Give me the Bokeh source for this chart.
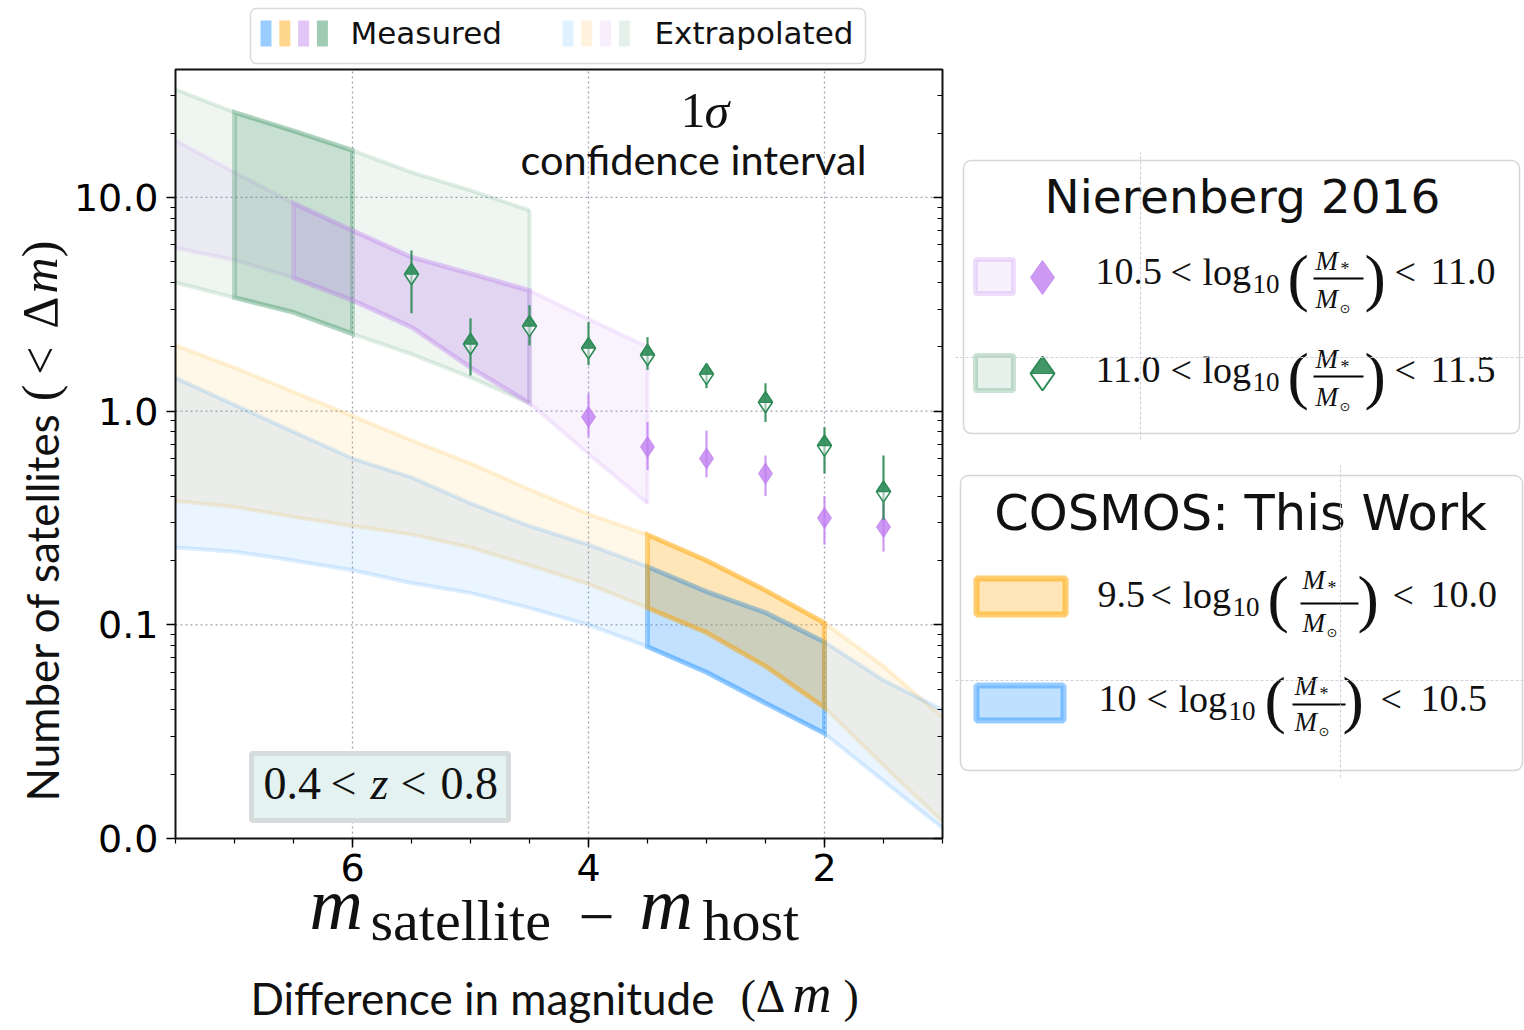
from math import pi, log10
import numpy as np
from bokeh.plotting import figure
from bokeh.models import (Range1d, FixedTicker, LogAxis, LinearAxis, Label, BoxAnnotation,
                          PolyAnnotation, PrintfTickFormatter, CustomJSTickFormatter)
from bokeh.embed import file_html
from bokeh.resources import INLINE

# ---------------- data ----------------
DM = [7.5, 7.0, 6.5, 6.0, 5.5, 5.0, 4.5, 4.0, 3.5, 3.0, 2.5, 2.0, 1.5, 1.0]
ORANGE_HI = [2.03, 1.60, 1.23, 0.95, 0.73, 0.57, 0.43, 0.33, 0.264, 0.20, 0.145, 0.102, 0.064, 0.037]
ORANGE_LO = [0.38, 0.356, 0.32, 0.29, 0.265, 0.23, 0.19, 0.155, 0.12, 0.092, 0.064, 0.041, 0.022, 0.012]
BLUE_HI = [1.43, 1.07, 0.80, 0.60, 0.49, 0.37, 0.29, 0.237, 0.187, 0.143, 0.114, 0.083, 0.055, 0.040]
BLUE_LO = [0.23, 0.22, 0.20, 0.18, 0.157, 0.141, 0.12, 0.10, 0.079, 0.060, 0.043, 0.031, 0.0186, 0.0112]
DM_PURPLE = [7.5, 7.0, 6.5, 6.0, 5.5, 5.0, 4.5, 4.0, 3.5]
PURPLE_HI = [18.5, 13.1, 9.4, 7.0, 5.25, 4.4, 3.67, 2.7, 2.0]
PURPLE_LO = [5.8, 5.1, 4.2, 3.3, 2.47, 1.6, 1.09, 0.63, 0.37]
DM_GREEN = [7.5, 7.0, 6.5, 6.0, 5.5, 5.0, 4.5]
GREEN_HI = [32.0, 25.0, 20.5, 16.6, 13.1, 10.8, 8.7]
GREEN_LO = [4.0, 3.4, 2.9, 2.3, 1.85, 1.44, 1.09]
# measured range (from, to) in delta-m for each band
ORANGE_MEAS = [3.5, 2.0]
BLUE_MEAS = [3.5, 2.0]
PURPLE_MEAS = [6.5, 4.5]
GREEN_MEAS = [7.0, 6.0]

# Nierenberg 2016 points
N_PURPLE_DM = [4.0, 3.5, 3.0, 2.5, 2.0, 1.5]
N_PURPLE_N = [0.94, 0.68, 0.60, 0.51, 0.316, 0.287]
N_PURPLE_LO = [0.76, 0.53, 0.49, 0.40, 0.237, 0.22]
N_PURPLE_HI = [1.21, 0.89, 0.81, 0.62, 0.40, 0.37]
N_GREEN_DM = [5.5, 5.0, 4.5, 4.0, 3.5, 3.0, 2.5, 2.0, 1.5]
N_GREEN_N = [4.37, 2.06, 2.50, 1.97, 1.83, 1.49, 1.10, 0.69, 0.42]
N_GREEN_LO = [2.87, 1.47, 2.03, 1.64, 1.56, 1.28, 0.89, 0.51, 0.31]
N_GREEN_HI = [5.65, 2.72, 3.13, 2.61, 2.22, 1.67, 1.35, 0.84, 0.62]

X_TICKS = [6, 4, 2]
Y_TICKS = [0.01, 0.1, 1, 10]

# ---------------- styling / layout ----------------
ORANGE = "#ffa500"
BLUE = "#1e90ff"
PURPLE = "#c080f0"
GREEN = "#2e8b57"
EXT_FILL, EXT_LINE = 0.095, 0.15
MEAS_FILL = 0.20

W, H = 1524, 1030
PLOT_L, PLOT_T, PLOT_R, PLOT_B = 175, 69, 942, 838   # pixel box of the data area
X_START, X_END = 7.5, 1.0
Y_START, Y_END = 0.01, 39.7

# the frame covers the whole canvas; the ranges are widened so the data box lands on PLOT_*
XPP = (X_START - X_END) / (PLOT_R - PLOT_L)
DPP = log10(Y_END / Y_START) / (PLOT_B - PLOT_T)
x_rng = Range1d(X_START + PLOT_L * XPP, X_END - (W - PLOT_R) * XPP)
y_rng = Range1d(10 ** (log10(Y_START) - (H - PLOT_B) * DPP), 10 ** (log10(Y_END) + PLOT_T * DPP))

p = figure(width=W, height=H, x_range=x_rng, y_range=y_rng, y_axis_type="log",
           x_axis_location=None, y_axis_location=None,
           output_backend="svg", toolbar_location=None,
           min_border_left=0, min_border_top=0, min_border_right=0, min_border_bottom=0)
p.background_fill_color = "white"
p.border_fill_color = "white"
p.outline_line_color = None
p.xgrid.visible = False
p.ygrid.visible = False

X_MINOR = [float(v) for v in np.arange(1.0, 7.51, 0.5)]
Y_MINOR = [m * 10.0 ** e for e in (-2, -1, 0, 1) for m in range(2, 10) if m * 10.0 ** e < Y_END]

# grid lines inside the data box, at the major ticks
GRID = dict(line_color="#a3a3b3", line_dash="2 3", line_width=1.3)
gx = [t for t in X_TICKS if X_END < t < X_START]
gy = [t for t in Y_TICKS if Y_START < t < Y_END]
p.segment(gx, [Y_START] * len(gx), gx, [Y_END] * len(gx), **GRID)
p.segment([X_START] * len(gy), gy, [X_END] * len(gy), gy, **GRID)

AX = dict(axis_line_color=None, major_tick_line_width=1.5, minor_tick_line_width=1.2,
          major_tick_line_color="black", minor_tick_line_color="black",
          major_label_text_font="DejaVu Sans", major_label_text_font_size="38px",
          major_label_text_color="black")
xa = LinearAxis(fixed_location=Y_START, bounds=(X_END, X_START),
                ticker=FixedTicker(ticks=X_TICKS, minor_ticks=X_MINOR),
                major_tick_out=9, major_tick_in=0, minor_tick_out=5, minor_tick_in=0,
                major_label_standoff=6, **AX)
ya = LogAxis(fixed_location=X_START, bounds=(Y_START, Y_END),
             ticker=FixedTicker(ticks=Y_TICKS, minor_ticks=Y_MINOR),
             formatter=PrintfTickFormatter(format="%.1f"),
             major_tick_out=9, major_tick_in=0, minor_tick_out=5, minor_tick_in=0,
             major_label_standoff=8, **AX)
ra = LogAxis(fixed_location=X_END, bounds=(Y_START, Y_END),
             ticker=FixedTicker(ticks=Y_TICKS, minor_ticks=Y_MINOR),
             formatter=CustomJSTickFormatter(code="return ''"),
             major_tick_in=9, major_tick_out=0, minor_tick_in=5, minor_tick_out=0, **AX)
p.add_layout(xa, "below")
p.add_layout(ya, "left")
p.add_layout(ra, "right")


# ---------------- bands ----------------
def ext_band(xs, hi, lo, color, fa=EXT_FILL):
    p.patch(list(xs) + list(xs)[::-1], list(hi) + list(lo)[::-1],
            fill_color=color, fill_alpha=fa, line_alpha=0)
    p.multi_line([list(xs), list(xs)], [list(hi), list(lo)], line_color=color,
                 line_alpha=EXT_LINE, line_width=4)
    if min(xs) > X_END:   # band stops inside the box: close it
        i = xs.index(min(xs))
        p.segment([xs[i]], [lo[i]], [xs[i]], [hi[i]], line_color=color,
                  line_alpha=EXT_LINE, line_width=4)


def measured(xs, hi, lo, rng, color, la):
    idx = [i for i, x in enumerate(xs) if rng[1] <= x <= rng[0]]
    mx = [xs[i] for i in idx]
    p.patch(mx + mx[::-1], [hi[i] for i in idx] + [lo[i] for i in idx][::-1],
            fill_color=color, fill_alpha=MEAS_FILL, line_color=color, line_alpha=la,
            line_width=5, line_join="miter")


ext_band(DM_GREEN, GREEN_HI, GREEN_LO, GREEN, EXT_FILL * 0.8)
ext_band(DM_PURPLE, PURPLE_HI, PURPLE_LO, PURPLE)
ext_band(DM, ORANGE_HI, ORANGE_LO, ORANGE)
ext_band(DM, BLUE_HI, BLUE_LO, BLUE)
measured(DM_GREEN, GREEN_HI, GREEN_LO, GREEN_MEAS, GREEN, 0.28)
measured(DM_PURPLE, PURPLE_HI, PURPLE_LO, PURPLE_MEAS, PURPLE, 0.3)
measured(DM, BLUE_HI, BLUE_LO, BLUE_MEAS, BLUE, 0.4)
measured(DM, ORANGE_HI, ORANGE_LO, ORANGE_MEAS, ORANGE, 0.45)

# ---------------- Nierenberg points ----------------
p.segment(N_PURPLE_DM, N_PURPLE_LO, N_PURPLE_DM, N_PURPLE_HI, line_color=PURPLE,
          line_alpha=0.8, line_width=2.2)
p.scatter(N_PURPLE_DM, N_PURPLE_N, marker="diamond", size=21, fill_color=PURPLE,
          fill_alpha=0.8, line_color=PURPLE, line_alpha=0.8, line_width=1)

p.segment(N_GREEN_DM, N_GREEN_LO, N_GREEN_DM, N_GREEN_HI, line_color=GREEN,
          line_alpha=0.9, line_width=2.2)
p.scatter(N_GREEN_DM, N_GREEN_N, marker="diamond", size=21, fill_color="white",
          fill_alpha=0.5, line_color=GREEN, line_width=1.6)
# upper half of each green marker is filled (pixel size converted through the scales)
HW, HH = 7.0, 10.5
p.patches([[x - HW * XPP, x, x + HW * XPP] for x in N_GREEN_DM],
          [[y, y * 10 ** (HH * DPP), y] for y in N_GREEN_N],
          fill_color=GREEN, fill_alpha=0.9, line_color=GREEN, line_width=1.2)

# frame of the data box
p.add_layout(BoxAnnotation(left=X_START, right=X_END, bottom=Y_START, top=Y_END,
                           fill_alpha=0, line_color="#111111", line_alpha=1, line_width=2))

# ---------------- annotation helpers (canvas pixels, y down) ----------------
K_MID = 0.36   # baseline -> middle of the em box, in em


def txt(text, px, py, size, font="DejaVu Sans", style="normal", align="left",
        angle=0.0, color="#111111", mid=False):
    if angle:
        ax_, ay_ = (px - (0 if mid else K_MID * size)), py
    else:
        ax_, ay_ = px, (py - (0 if mid else K_MID * size))
    p.add_layout(Label(x=ax_, y=H - ay_, x_units="screen", y_units="screen",
                       text=text, text_font=font, text_font_size=f"{size}px",
                       text_font_style=style, text_align=align, text_baseline="middle",
                       angle=angle, text_color=color))


def box(l, t, r, b, **kw):
    p.add_layout(BoxAnnotation(left=l, right=r, top=H - t, bottom=H - b,
                               left_units="screen", right_units="screen",
                               top_units="screen", bottom_units="screen", **kw))


def poly(pxs, pys, **kw):
    p.add_layout(PolyAnnotation(xs=list(pxs), ys=[H - y for y in pys],
                                xs_units="screen", ys_units="screen", **kw))


SERIF = "Liberation Serif"
SANS = "Lato"

# axis titles
txt("Number of satellites", 57, 801, 44, SANS, angle=pi / 2)
txt(")", 57, 240, 50, SERIF, align="right", angle=pi / 2)
txt("m", 57, 257, 50, SERIF, style="italic", align="right", angle=pi / 2)
txt("Δ", 57, 296, 50, SERIF, align="right", angle=pi / 2)
txt("<", 57, 346, 50, SERIF, align="right", angle=pi / 2)
txt("(", 57, 384, 50, SERIF, align="right", angle=pi / 2)

txt("m", 309, 930, 74, SERIF, style="italic")
txt("satellite", 370, 941, 58, SERIF)
txt("−", 578, 916, 64, SERIF, mid=True)
txt("m", 639, 930, 74, SERIF, style="italic")
txt("host", 702, 941, 58, SERIF)

txt("Difference in magnitude", 250, 1013, 44, SANS)
txt("(Δ", 740, 1013, 46, SERIF)
txt("m", 792, 1013, 54, SERIF, style="italic")
txt(")", 843, 1013, 46, SERIF)

# in-plot texts
txt("1", 680, 128, 50, SERIF)
txt("σ", 704, 128, 50, SERIF, style="italic")
txt("confidence interval", 693, 173, 41.5, SANS, align="center")

box(251, 753, 508, 820, fill_color="#e4f2f1", fill_alpha=1, line_color="#d6dcdb",
    line_alpha=1, line_width=5)
txt("0.4", 263, 800, 46, SERIF)
txt("<", 330, 800, 46, SERIF)
txt("z", 370, 800, 46, SERIF, style="italic")
txt("<", 400, 800, 46, SERIF)
txt("0.8", 440, 800, 46, SERIF)

# top legend
box(250, 8, 865, 63, fill_color="white", fill_alpha=1, line_color="#dadada", line_alpha=1,
    line_width=1.5, border_radius=6)
for i, c in enumerate([BLUE, ORANGE, PURPLE, GREEN]):
    box(260 + 18.8 * i, 20, 271 + 18.8 * i, 46, fill_color=c, fill_alpha=0.45, line_alpha=0)
    box(562 + 18.8 * i, 20, 573 + 18.8 * i, 46, fill_color=c, fill_alpha=0.13, line_alpha=0)
txt("Measured", 350, 44, 31)
txt("Extrapolated", 654, 44, 31)

# Nierenberg legend
box(963, 160, 1519, 433, fill_color="white", fill_alpha=1, line_color="#d6d6d6", line_alpha=1,
    line_width=1.5, border_radius=8)
txt("Nierenberg 2016", 1242, 213, 47, align="center")
box(975, 259, 1013, 293, fill_color=PURPLE, fill_alpha=0.12, line_color=PURPLE, line_alpha=0.25,
    line_width=5)
box(975, 355, 1013, 390, fill_color=GREEN, fill_alpha=0.12, line_color=GREEN, line_alpha=0.25,
    line_width=5)
poly([1030, 1042, 1054, 1042], [277, 260, 277, 294], fill_color=PURPLE, fill_alpha=0.8,
     line_color=PURPLE, line_alpha=0.8, line_width=1)
poly([1030, 1042, 1054, 1042], [373, 356, 373, 390], fill_color="white", fill_alpha=1,
     line_color=GREEN, line_alpha=1, line_width=2)
poly([1030, 1042, 1054], [373, 356, 373], fill_color=GREEN, fill_alpha=0.9,
     line_color=GREEN, line_alpha=1, line_width=1)

# COSMOS legend
box(960, 475, 1522, 770, fill_color="white", fill_alpha=1, line_color="#d6d6d6", line_alpha=1,
    line_width=1.5, border_radius=8)
txt("COSMOS: This Work", 1240, 530, 49.5, align="center")
box(976, 578, 1065, 614, fill_color=ORANGE, fill_alpha=0.28, line_color=ORANGE, line_alpha=0.55,
    line_width=6)
box(976, 685, 1063, 720, fill_color=BLUE, fill_alpha=0.28, line_color=BLUE, line_alpha=0.45,
    line_width=6)

MS, SUB = 38, 27   # math font sizes


def math_row(lhs, rhs, xs, base, paren_mid, num_base, bar_y, den_base, frac_l, frac_r):
    x_lhs, x_lt1, x_log, x_sub, x_lp, x_rp, x_lt2, x_rhs = xs
    txt(lhs, x_lhs, base, MS, SERIF)
    txt("<", x_lt1, base, MS, SERIF)
    txt("log", x_log, base, MS, SERIF)
    txt("10", x_sub, base + 8, SUB, SERIF)
    txt("(", x_lp, paren_mid, 64, SERIF, mid=True)
    txt("M", frac_l + 2, num_base, 27, SERIF, style="italic")
    txt("*", frac_l + 27, num_base + 5, 18, SERIF)
    box(frac_l, bar_y - 1, frac_r, bar_y + 1, fill_color="black", fill_alpha=1, line_alpha=0)
    txt("M", frac_l + 2, den_base, 27, SERIF, style="italic")
    txt("⊙", frac_l + 26, den_base + 5, 13, "DejaVu Sans")
    txt(")", x_rp, paren_mid, 64, SERIF, mid=True)
    txt("<", x_lt2, base, MS, SERIF)
    txt(rhs, x_rhs, base, MS, SERIF)


NX = (1095, 1170, 1202, 1252, 1287, 1364, 1394, 1430)
math_row("10.5", "11.0", NX, 285, 277, 270, 278, 308, 1313, 1363)
math_row("11.0", "11.5", NX, 383, 375, 368, 376, 406, 1313, 1363)
math_row("9.5", "10.0", (1097, 1150, 1182, 1232, 1267, 1357, 1392, 1430),
         608, 598, 589, 603, 632, 1300, 1358)
math_row("10", "10.5", (1098, 1146, 1178, 1228, 1264, 1342, 1380, 1420),
         712, 699, 695, 704, 731, 1292, 1345)

# faint dotted guide lines showing through the legends
GUIDE = dict(fill_alpha=0, line_color="#d2d2de", line_alpha=1, line_width=1.2, line_dash="2 3")
box(1140, 152, 1140, 440, **GUIDE)
box(955, 357, 1524, 357, **GUIDE)
box(1340, 465, 1340, 778, **GUIDE)
box(955, 680, 1524, 680, **GUIDE)

open("out.html", "w").write(file_html(p, INLINE))
